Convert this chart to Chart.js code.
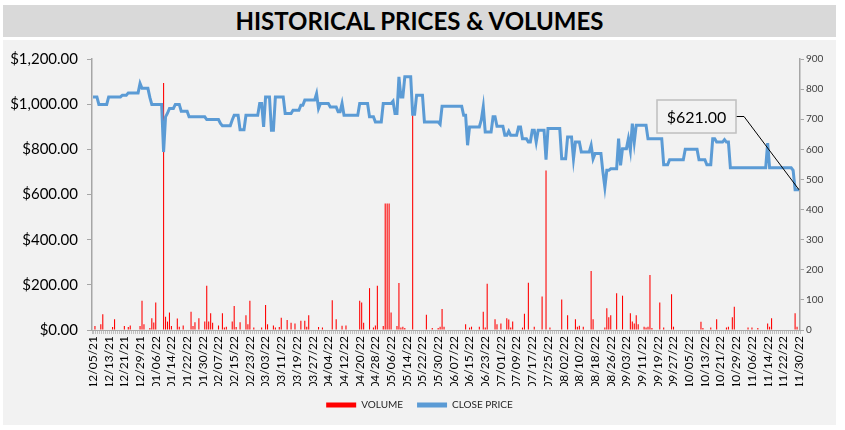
<!DOCTYPE html>
<html>
<head>
<meta charset="utf-8">
<script src="https://cdn.jsdelivr.net/npm/chart.js@4.4.0/dist/chart.umd.min.js"></script>
<style>
    body { margin: 0; background: #ffffff; font-family: 'Lato', sans-serif; }
    #titleBar {
        position: absolute; left: 3px; top: 5px; width: 833px; height: 32px;
        background: #D9D9D9; text-align: center; line-height: 32px;
        font-weight: bold; font-size: 24px; color: #000;
    }
    #panel {
        position: absolute; left: 3px; top: 40px; width: 833px; height: 385px;
        background: #F2F2F2;
    }
</style>
</head>
<body>
<div id="titleBar">HISTORICAL PRICES &amp; VOLUMES</div>
<div id="panel"><canvas id="priceChart" width="833" height="385"></canvas></div>
<script>
// daily dates 12/05/21 .. 11/30/22, one category per day
const startDate = new Date(2021, 11, 5);
const dayCount = 361;
const labelEvery = 8;

const closePrice = [
    1032,1032,1032,999,999,999,999,999,1032,1032,
    1032,1032,1032,1032,1032,1040,1040,1040,1050,1050,
    1050,1050,1050,1050,1092,1070,1070,1070,1070,1030,
    999,999,999,999,999,999,788,944,960,981,
    981,981,999,999,999,969,969,969,969,944,
    944,944,944,944,944,944,944,944,932,932,
    932,932,932,932,932,915,904,904,904,904,
    904,930,951,951,951,887,887,887,951,951,
    951,951,951,951,951,1003,1003,899,1032,1032,
    1032,884,884,1032,1032,1032,1032,1032,959,959,
    959,959,973,973,973,973,995,995,1018,1018,
    1018,1018,1018,1018,1047,981,1003,1003,1003,1003,
    1003,988,988,988,988,966,966,1003,951,951,
    951,951,951,951,951,951,1003,1003,1003,1003,
    1003,944,944,944,921,921,921,921,1003,1003,
    1003,1003,1003,1013,959,959,1121,1032,1032,1121,
    1121,1121,1121,955,955,1040,1040,1040,1040,921,
    921,921,921,921,921,921,921,911,991,991,
    991,991,991,991,991,991,991,991,991,951,
    951,818,899,899,899,899,899,899,930,988,
    877,877,877,877,944,944,902,902,902,902,
    862,862,880,862,862,862,862,899,899,847,
    847,847,832,832,884,884,832,884,884,884,
    884,754,892,892,892,892,892,892,892,758,
    758,758,855,855,855,758,832,832,832,788,
    788,788,788,788,818,758,781,781,781,781,
    700,632,707,707,714,714,714,714,847,729,
    803,803,803,847,795,914,832,907,907,907,
    907,907,907,847,847,847,847,847,847,847,
    847,732,732,732,754,754,754,754,754,754,
    754,754,800,800,800,800,800,800,800,754,
    754,754,754,732,732,732,847,847,832,832,
    832,832,843,832,832,718,718,718,718,718,
    718,718,718,718,718,718,718,718,718,718,
    718,718,718,718,828,718,718,718,718,718,
    718,718,718,718,718,718,718,707,621,621,
    621
];

const volume = [
    0,13,0,0,19,52,0,0,0,0,
    10,36,0,0,0,0,13,0,10,15,
    0,0,0,0,13,97,19,0,0,7,
    39,25,91,0,0,0,820,44,28,58,
    13,0,0,38,11,0,15,0,0,0,
    61,13,26,0,39,0,0,28,147,28,
    56,24,0,0,15,0,56,8,11,0,
    0,28,80,10,0,26,0,0,49,19,
    97,0,8,0,0,0,8,0,83,19,
    0,0,15,8,0,10,41,0,0,33,
    0,24,0,22,0,0,31,0,31,11,
    49,0,0,0,0,10,0,8,0,0,
    0,0,99,0,36,0,0,14,0,15,
    0,0,0,0,0,0,97,91,24,0,
    0,139,0,8,15,147,0,0,13,420,
    420,420,58,0,0,13,156,8,11,7,
    0,0,0,713,0,0,0,0,0,0,
    51,0,0,7,0,0,7,11,70,11,
    0,0,0,0,0,0,0,0,0,0,
    19,0,8,11,0,0,0,11,0,61,
    8,154,0,0,0,36,19,0,22,0,
    0,39,35,8,28,0,0,0,0,8,
    54,0,157,0,0,11,0,0,0,111,
    0,530,0,8,0,0,0,0,0,101,
    0,0,49,0,0,0,36,11,14,0,
    11,0,0,0,196,36,0,0,0,0,
    0,8,72,42,49,0,0,122,0,0,
    114,0,0,0,56,28,22,49,19,0,
    0,11,8,11,183,7,0,0,0,91,
    0,8,0,0,0,119,11,0,0,0,
    0,0,0,0,0,0,0,0,0,0,
    27,7,0,0,0,8,0,0,36,0,
    0,0,0,8,11,0,42,77,0,0,
    0,0,0,0,8,0,8,0,0,7,
    0,0,0,0,22,11,39,0,0,0,
    0,0,0,0,0,0,0,0,56,11,
    0
];

const lastPriceLabel = '$621.00';

function pad2(n) {
    return (n < 10 ? '0' : '') + n;
}

function buildDateLabels() {
    const labels = [];
    for (let i = 0; i < dayCount; i++) {
        const d = new Date(startDate.getFullYear(), startDate.getMonth(), startDate.getDate() + i);
        labels.push(pad2(d.getMonth() + 1) + '/' + pad2(d.getDate()) + '/' + pad2(d.getFullYear() % 100));
    }
    return labels;
}

const dates = buildDateLabels();

// callout box with a leader line to the last close price
const calloutPlugin = {
    id: 'callout',
    afterDatasetsDraw(chart) {
        const ctx = chart.ctx;
        const meta = chart.getDatasetMeta(1);
        const last = meta.data[meta.data.length - 1];
        const area = chart.chartArea;
        const boxW = 79, boxH = 33;
        const boxX = area.right - 143;
        const boxY = area.top + 41;

        ctx.save();
        ctx.strokeStyle = '#000';
        ctx.lineWidth = 1;
        ctx.beginPath();
        ctx.moveTo(boxX + boxW, boxY + boxH / 2);
        ctx.lineTo(boxX + boxW + 8, boxY + boxH / 2);
        ctx.lineTo(last.x, last.y);
        ctx.stroke();

        ctx.fillStyle = '#F2F2F2';
        ctx.fillRect(boxX, boxY, boxW, boxH);
        ctx.strokeStyle = '#BFBFBF';
        ctx.lineWidth = 1.5;
        ctx.strokeRect(boxX, boxY, boxW, boxH);

        ctx.fillStyle = '#000';
        ctx.font = '16px Lato';
        ctx.textAlign = 'center';
        ctx.textBaseline = 'middle';
        ctx.fillText(lastPriceLabel, boxX + boxW / 2, boxY + boxH / 2 + 1);
        ctx.restore();
    }
};

function renderChart() {
    const ctx = document.getElementById('priceChart').getContext('2d');

    new Chart(ctx, {
        type: 'bar',
        data: {
            labels: dates,
            datasets: [{
                type: 'bar',
                label: 'VOLUME',
                data: volume,
                yAxisID: 'yVol',
                backgroundColor: '#FF0000',
                barPercentage: 0.55,
                categoryPercentage: 1,
                order: 1
            }, {
                type: 'line',
                label: 'CLOSE PRICE',
                data: closePrice,
                yAxisID: 'yPrice',
                borderColor: '#5B9BD5',
                backgroundColor: '#5B9BD5',
                borderWidth: 3,
                pointRadius: 0,
                tension: 0,
                order: 0
            }]
        },
        options: {
            responsive: false,
            animation: false,
            layout: { padding: { top: 19, left: 0, right: 0, bottom: 5 } },
            plugins: {
                tooltip: { enabled: false },
                legend: {
                    position: 'bottom',
                    labels: {
                        boxWidth: 30,
                        boxHeight: 5,
                        padding: 14,
                        color: '#262626',
                        font: { family: 'Lato', size: 10 },
                        sort: (a, b) => a.datasetIndex - b.datasetIndex,
                        generateLabels: (chart) => {
                            const items = Chart.defaults.plugins.legend.labels.generateLabels(chart);
                            items.forEach(it => { it.lineWidth = 0; });
                            return items;
                        }
                    }
                }
            },
            scales: {
                x: {
                    afterFit: (scale) => { scale.height = 56; },
                    ticks: {
                        autoSkip: false,
                        maxRotation: 90,
                        minRotation: 90,
                        padding: 2,
                        color: '#000',
                        font: { family: 'Lato', size: 12 },
                        callback: (value, index) => index % labelEvery === 0 ? dates[index] : ''
                    },
                    grid: {
                        drawOnChartArea: false,
                        drawTicks: true,
                        tickLength: 4,
                        color: '#BFBFBF'
                    },
                    border: { color: '#A6A6A6', width: 1 }
                },
                yPrice: {
                    position: 'left',
                    min: 0,
                    max: 1200,
                    afterFit: (scale) => { scale.width = 89; },
                    ticks: {
                        stepSize: 200,
                        padding: 9,
                        color: '#000',
                        font: { family: 'Lato', size: 15 },
                        callback: (value) => '$' + value.toLocaleString('en-US', { minimumFractionDigits: 2, maximumFractionDigits: 2 })
                    },
                    grid: { drawOnChartArea: false, tickLength: 5, color: '#A6A6A6' },
                    border: { color: '#A6A6A6', width: 1.5 }
                },
                yVol: {
                    position: 'right',
                    min: 0,
                    max: 900,
                    afterFit: (scale) => { scale.width = 36; },
                    ticks: {
                        stepSize: 100,
                        padding: 2,
                        color: '#404040',
                        font: { family: 'Lato', size: 10 }
                    },
                    grid: { drawOnChartArea: false, tickLength: 4, color: '#A6A6A6' },
                    border: { color: '#A6A6A6', width: 1.5 }
                }
            }
        },
        plugins: [calloutPlugin]
    });
}

renderChart();
</script>
</body>
</html>
